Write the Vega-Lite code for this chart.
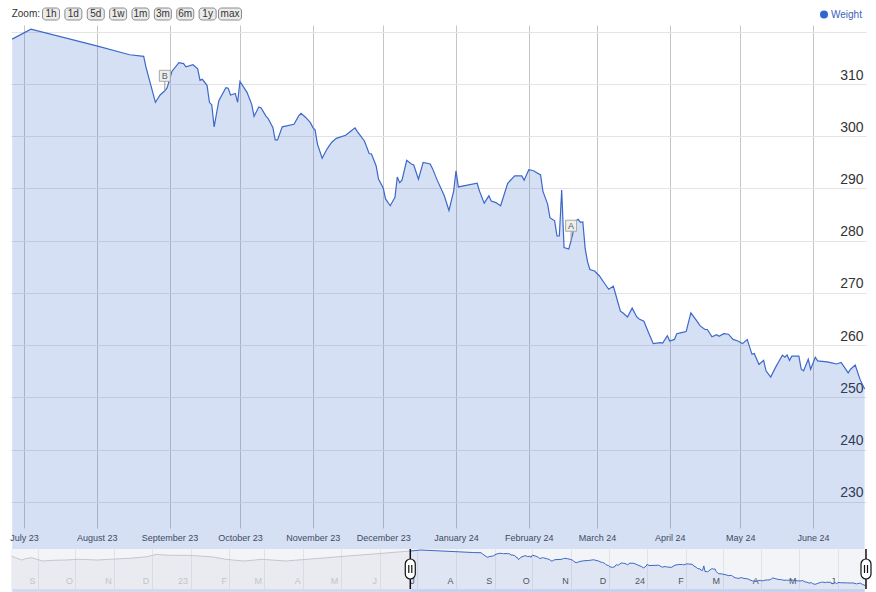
{
  "$schema": "https://vega.github.io/schema/vega-lite/v6.json",
  "background": "white",
  "padding": {"left": 9, "top": 7, "right": 10, "bottom": 4},
  "bounds": "flush",
  "spacing": 5,
  "config": {"view": {"stroke": null}, "font": "Liberation Sans"},
  "datasets": {
    "weight": [
      {"date": "2023-06-26", "value": 318.6}, {"date": "2023-07-04", "value": 320.5}, {"date": "2023-08-01", "value": 317.3},
      {"date": "2023-08-15", "value": 315.6}, {"date": "2023-08-21", "value": 315.3}, {"date": "2023-08-22", "value": 313.2},
      {"date": "2023-08-26", "value": 306.5}, {"date": "2023-08-28", "value": 307.9}, {"date": "2023-08-30", "value": 308.7},
      {"date": "2023-08-31", "value": 309.3}, {"date": "2023-09-02", "value": 312.4}, {"date": "2023-09-05", "value": 314.1},
      {"date": "2023-09-07", "value": 313.9}, {"date": "2023-09-08", "value": 313.3}, {"date": "2023-09-11", "value": 313.7},
      {"date": "2023-09-13", "value": 312.9}, {"date": "2023-09-14", "value": 310.7}, {"date": "2023-09-15", "value": 310.9},
      {"date": "2023-09-17", "value": 309.7}, {"date": "2023-09-18", "value": 306.5}, {"date": "2023-09-19", "value": 306.0},
      {"date": "2023-09-20", "value": 301.8}, {"date": "2023-09-22", "value": 306.8}, {"date": "2023-09-25", "value": 309.3},
      {"date": "2023-09-26", "value": 309.2}, {"date": "2023-09-27", "value": 307.9}, {"date": "2023-09-29", "value": 308.2},
      {"date": "2023-09-30", "value": 306.5}, {"date": "2023-10-01", "value": 310.5}, {"date": "2023-10-04", "value": 308.4},
      {"date": "2023-10-06", "value": 306.1}, {"date": "2023-10-07", "value": 303.8}, {"date": "2023-10-09", "value": 305.6},
      {"date": "2023-10-10", "value": 305.4}, {"date": "2023-10-12", "value": 303.9}, {"date": "2023-10-13", "value": 303.4},
      {"date": "2023-10-15", "value": 301.7}, {"date": "2023-10-16", "value": 299.3}, {"date": "2023-10-17", "value": 299.3},
      {"date": "2023-10-19", "value": 301.8}, {"date": "2023-10-24", "value": 302.3}, {"date": "2023-10-26", "value": 303.9},
      {"date": "2023-10-27", "value": 304.4}, {"date": "2023-10-29", "value": 303.6}, {"date": "2023-10-31", "value": 302.6},
      {"date": "2023-11-01", "value": 301.7}, {"date": "2023-11-02", "value": 301.2}, {"date": "2023-11-03", "value": 298.5},
      {"date": "2023-11-05", "value": 295.8}, {"date": "2023-11-07", "value": 297.5}, {"date": "2023-11-09", "value": 298.8},
      {"date": "2023-11-11", "value": 299.6}, {"date": "2023-11-15", "value": 300.2}, {"date": "2023-11-17", "value": 300.9},
      {"date": "2023-11-19", "value": 301.6}, {"date": "2023-11-20", "value": 300.9}, {"date": "2023-11-23", "value": 299.1},
      {"date": "2023-11-25", "value": 296.7}, {"date": "2023-11-26", "value": 296.6}, {"date": "2023-11-28", "value": 294.3},
      {"date": "2023-11-29", "value": 291.8}, {"date": "2023-12-01", "value": 290.1}, {"date": "2023-12-02", "value": 288.0},
      {"date": "2023-12-04", "value": 286.7}, {"date": "2023-12-06", "value": 288.3}, {"date": "2023-12-07", "value": 292.2},
      {"date": "2023-12-08", "value": 291.1}, {"date": "2023-12-09", "value": 291.6}, {"date": "2023-12-11", "value": 295.4},
      {"date": "2023-12-13", "value": 294.7}, {"date": "2023-12-14", "value": 294.5}, {"date": "2023-12-16", "value": 291.8},
      {"date": "2023-12-18", "value": 295.0}, {"date": "2023-12-21", "value": 294.7}, {"date": "2023-12-22", "value": 293.8},
      {"date": "2023-12-24", "value": 291.6}, {"date": "2023-12-27", "value": 288.6}, {"date": "2023-12-29", "value": 285.8},
      {"date": "2023-12-31", "value": 289.5}, {"date": "2024-01-01", "value": 293.4}, {"date": "2024-01-02", "value": 290.3},
      {"date": "2024-01-10", "value": 291.0}, {"date": "2024-01-11", "value": 289.5}, {"date": "2024-01-13", "value": 287.2},
      {"date": "2024-01-15", "value": 288.6}, {"date": "2024-01-16", "value": 287.6}, {"date": "2024-01-18", "value": 287.3},
      {"date": "2024-01-19", "value": 287.0}, {"date": "2024-01-20", "value": 286.7}, {"date": "2024-01-23", "value": 291.0},
      {"date": "2024-01-26", "value": 292.4}, {"date": "2024-01-29", "value": 292.4}, {"date": "2024-01-30", "value": 291.6},
      {"date": "2024-02-01", "value": 293.6}, {"date": "2024-02-03", "value": 293.4}, {"date": "2024-02-06", "value": 292.6},
      {"date": "2024-02-07", "value": 289.5}, {"date": "2024-02-09", "value": 287.0}, {"date": "2024-02-10", "value": 284.4},
      {"date": "2024-02-12", "value": 283.8}, {"date": "2024-02-13", "value": 280.9}, {"date": "2024-02-14", "value": 280.9},
      {"date": "2024-02-15", "value": 289.7}, {"date": "2024-02-16", "value": 278.7}, {"date": "2024-02-18", "value": 278.4},
      {"date": "2024-02-19", "value": 280.0}, {"date": "2024-02-21", "value": 283.8}, {"date": "2024-02-22", "value": 284.1},
      {"date": "2024-02-23", "value": 283.5}, {"date": "2024-02-24", "value": 283.6}, {"date": "2024-02-25", "value": 278.5},
      {"date": "2024-02-26", "value": 276.0}, {"date": "2024-02-27", "value": 274.5}, {"date": "2024-02-29", "value": 274.2},
      {"date": "2024-03-02", "value": 273.3}, {"date": "2024-03-04", "value": 272.0}, {"date": "2024-03-06", "value": 270.7},
      {"date": "2024-03-08", "value": 271.3}, {"date": "2024-03-09", "value": 269.7}, {"date": "2024-03-11", "value": 266.5},
      {"date": "2024-03-12", "value": 266.2}, {"date": "2024-03-14", "value": 265.4}, {"date": "2024-03-16", "value": 267.1},
      {"date": "2024-03-18", "value": 265.4}, {"date": "2024-03-19", "value": 265.0}, {"date": "2024-03-21", "value": 264.6},
      {"date": "2024-03-23", "value": 262.4}, {"date": "2024-03-25", "value": 260.3}, {"date": "2024-03-28", "value": 260.5},
      {"date": "2024-03-29", "value": 260.4}, {"date": "2024-03-31", "value": 261.8}, {"date": "2024-04-01", "value": 260.8},
      {"date": "2024-04-03", "value": 261.1}, {"date": "2024-04-04", "value": 262.2}, {"date": "2024-04-06", "value": 262.4},
      {"date": "2024-04-08", "value": 262.6}, {"date": "2024-04-10", "value": 266.2}, {"date": "2024-04-12", "value": 265.0},
      {"date": "2024-04-14", "value": 263.7}, {"date": "2024-04-16", "value": 263.0}, {"date": "2024-04-17", "value": 263.0},
      {"date": "2024-04-19", "value": 261.6}, {"date": "2024-04-21", "value": 262.0}, {"date": "2024-04-22", "value": 261.7},
      {"date": "2024-04-24", "value": 262.2}, {"date": "2024-04-26", "value": 262.1}, {"date": "2024-04-28", "value": 261.1},
      {"date": "2024-04-30", "value": 260.8}, {"date": "2024-05-02", "value": 260.3}, {"date": "2024-05-04", "value": 261.1},
      {"date": "2024-05-06", "value": 258.3}, {"date": "2024-05-07", "value": 258.4}, {"date": "2024-05-09", "value": 256.3},
      {"date": "2024-05-11", "value": 257.1}, {"date": "2024-05-12", "value": 255.1}, {"date": "2024-05-14", "value": 253.9},
      {"date": "2024-05-16", "value": 255.7}, {"date": "2024-05-18", "value": 257.3}, {"date": "2024-05-19", "value": 258.1},
      {"date": "2024-05-20", "value": 257.7}, {"date": "2024-05-21", "value": 258.1}, {"date": "2024-05-22", "value": 257.1},
      {"date": "2024-05-23", "value": 257.9}, {"date": "2024-05-26", "value": 257.9}, {"date": "2024-05-27", "value": 255.4},
      {"date": "2024-05-28", "value": 255.1}, {"date": "2024-05-30", "value": 257.3}, {"date": "2024-05-31", "value": 255.4},
      {"date": "2024-06-02", "value": 257.7}, {"date": "2024-06-03", "value": 257.0}, {"date": "2024-06-07", "value": 256.8},
      {"date": "2024-06-09", "value": 256.6}, {"date": "2024-06-11", "value": 256.4}, {"date": "2024-06-13", "value": 256.7},
      {"date": "2024-06-16", "value": 254.7}, {"date": "2024-06-17", "value": 255.4}, {"date": "2024-06-19", "value": 256.2},
      {"date": "2024-06-21", "value": 253.5}, {"date": "2024-06-23", "value": 251.6}
    ],
    "history": [
      {"date": "2022-08-11", "value": 308.9}, {"date": "2022-08-14", "value": 305.6}, {"date": "2022-08-19", "value": 301.1},
      {"date": "2022-08-22", "value": 303.6}, {"date": "2022-08-27", "value": 305.6}, {"date": "2022-08-31", "value": 302.5},
      {"date": "2022-09-05", "value": 299.2}, {"date": "2022-09-13", "value": 300.5}, {"date": "2022-09-23", "value": 301.1},
      {"date": "2022-10-04", "value": 302.5}, {"date": "2022-10-18", "value": 301.1}, {"date": "2022-10-29", "value": 302.5},
      {"date": "2022-11-13", "value": 304.4}, {"date": "2022-11-27", "value": 307.5}, {"date": "2022-12-05", "value": 312.2},
      {"date": "2022-12-10", "value": 310.8}, {"date": "2022-12-18", "value": 310.2}, {"date": "2022-12-29", "value": 310.2},
      {"date": "2023-01-08", "value": 308.9}, {"date": "2023-01-19", "value": 307.0}, {"date": "2023-01-29", "value": 302.5},
      {"date": "2023-02-12", "value": 299.2}, {"date": "2023-02-19", "value": 300.5}, {"date": "2023-02-27", "value": 302.5},
      {"date": "2023-03-07", "value": 301.1}, {"date": "2023-03-18", "value": 299.2}, {"date": "2023-06-26", "value": 318.6}
    ],
    "annotations": [
      {"date": "2023-08-30", "value": 308.7, "label": "B"},
      {"date": "2024-02-19", "value": 280.0, "label": "A"}
    ],
    "range": [
      {"date": "2023-06-25T12:00:00"},
      {"date": "2024-06-23T14:00:00"}
    ],
    "buttons": [
      {"label": "1h"}, {"label": "1d"}, {"label": "5d"}, {"label": "1w"}, {"label": "1m"},
      {"label": "3m"}, {"label": "6m"}, {"label": "1y"}, {"label": "max"}
    ]
  },
  "vconcat": [
    {
      "width": 855,
      "height": 12,
      "layer": [
        {
          "data": {"name": "buttons"},
          "mark": {"type": "rect", "width": {"expr": "datum.label === 'max' ? 23 : 17"}, "cornerRadius": 3, "fill": "#ebebeb", "stroke": "#8c8c8c", "strokeWidth": 1},
          "encoding": {
            "x": {"field": "label", "type": "nominal", "sort": null, "scale": {"type": "point", "range": [40, 219], "padding": 0}, "axis": null}
          }
        },
        {
          "data": {"name": "buttons"},
          "mark": {"type": "text", "fontSize": 10, "color": "#333333", "baseline": "middle"},
          "encoding": {
            "x": {"field": "label", "type": "nominal", "sort": null, "axis": null},
            "text": {"field": "label"}
          }
        },
        {
          "data": {"values": [{"label": "Zoom:"}]},
          "mark": {"type": "text", "fontSize": 10, "color": "#333333", "baseline": "middle", "align": "right", "dx": -11},
          "encoding": {
            "x": {"datum": "1h", "type": "nominal"},
            "text": {"field": "label"}
          }
        }
      ]
    },
    {
      "bounds": "flush",
      "spacing": 21,
      "vconcat": [
        {
          "width": 855,
          "height": 503,
          "view": {"fill": "white", "stroke": null},
          "encoding": {
            "x": {
              "field": "date", "type": "temporal",
              "scale": {"domain": [{"year": 2023, "month": 6, "date": 25, "hours": 12}, {"year": 2024, "month": 6, "date": 23, "hours": 14}]},
              "axis": {"title": null, "format": "%B %y", "tickCount": {"interval": "month", "step": 1}, "domain": false, "ticks": false, "tickSize": 0, "labelPadding": 5, "labelFontSize": 9, "labelColor": "#444444", "labelFlush": false, "labelOverlap": false, "gridColor": "#c6c6c6", "grid": true}
            },
            "y": {
              "field": "value", "type": "quantitative",
              "scale": {"domain": [225, 321.3], "zero": false, "nice": false},
              "axis": {"title": null, "orient": "right", "values": [230, 240, 250, 260, 270, 280, 290, 300, 310, 320], "labelExpr": "datum.value > 315 ? '' : datum.label", "domain": false, "ticks": false, "tickSize": 0, "labelAlign": "right", "labelPadding": -3, "labelBaseline": "alphabetic", "labelOffset": -5, "labelFontSize": 14, "labelColor": "#333333", "grid": true, "gridColor": "#e4e4e4"}
            }
          },
          "layer": [
            {
              "data": {"name": "weight"},
              "mark": {"type": "area", "fill": "#3366cc", "fillOpacity": 0.2}
            },
            {
              "data": {"name": "weight"},
              "mark": {"type": "line", "strokeWidth": 1.2},
              "encoding": {
                "color": {"datum": "Weight", "type": "nominal", "scale": {"range": ["#3d68c8"]},
                  "legend": {"title": null, "orient": "none", "legendX": 808, "legendY": 1.5, "padding": 0, "symbolType": "circle", "symbolSize": 64, "symbolFillColor": "#3366cc", "symbolStrokeWidth": 0, "labelFontSize": 10, "labelColor": "#3d5fb8", "labelOffset": 2}}
              }
            },
            {
              "data": {"name": "annotations"},
              "mark": {"type": "rule", "color": "#9a9a9a", "y2Offset": -10},
              "encoding": {"y2": {"field": "value"}}
            },
            {
              "data": {"name": "annotations"},
              "mark": {"type": "point", "shape": "square", "size": 121, "filled": true, "fill": "#efefe4", "stroke": "#a8a8a8", "strokeWidth": 1, "opacity": 1, "yOffset": -15}
            },
            {
              "data": {"name": "annotations"},
              "mark": {"type": "text", "fontSize": 9, "color": "#4b5d8c", "yOffset": -15, "baseline": "middle"},
              "encoding": {"text": {"field": "label"}}
            }
          ]
        },
        {
          "width": 855,
          "height": 40,
          "view": {"fill": "#f3f4f7", "stroke": null},
          "encoding": {
            "x": {
              "field": "date", "type": "temporal",
              "scale": {"domain": [{"year": 2022, "month": 8, "date": 10, "hours": 12}, {"year": 2024, "month": 6, "date": 23, "hours": 14}]},
              "axis": {"title": null, "tickCount": {"interval": "month", "step": 1}, "labelExpr": "month(datum.value) === 0 ? timeFormat(datum.value, '%y') : slice(timeFormat(datum.value, '%b'), 0, 1)", "domain": false, "ticks": false, "tickSize": 0, "labelAlign": "right", "labelBaseline": "middle", "labelPadding": -9, "labelOffset": -3, "labelFontSize": 9, "labelFlush": false, "labelOverlap": false, "labelColor": {"condition": {"test": "datum.value < datetime(2023, 5, 25)", "value": "#c6c6c6"}, "value": "#555555"}, "grid": true, "gridColor": "#e0e2e7"}
            },
            "y": {"field": "value", "type": "quantitative", "scale": {"domain": [244.8, 322.5], "zero": false, "nice": false}, "axis": null}
          },
          "layer": [
            {"data": {"name": "history"}, "mark": {"type": "area", "fill": "#b8bcc6", "fillOpacity": 0.15}},
            {"data": {"name": "history"}, "mark": {"type": "line", "color": "#c4c7ce", "strokeWidth": 1}},
            {"data": {"name": "weight"}, "mark": {"type": "area", "fill": "#3366cc", "fillOpacity": 0.1}},
            {"data": {"name": "weight"}, "mark": {"type": "line", "color": "#3d68c8", "strokeWidth": 1}},
            {
              "data": {"name": "range"},
              "mark": {"type": "rule", "color": "#111111", "strokeWidth": 1.5},
              "encoding": {"y": null}
            },
            {
              "data": {"name": "range"},
              "mark": {"type": "point", "shape": "M -0.5 -0.5 A 0.5 0.5 0 0 1 0.5 -0.5 L 0.5 0.5 A 0.5 0.5 0 0 1 -0.5 0.5 Z M -0.15 -0.4 L -0.15 0.4 M 0.15 -0.4 L 0.15 0.4", "size": 400, "filled": true, "fill": "white", "stroke": "#111111", "strokeWidth": 1.2, "opacity": 1},
              "encoding": {"y": null}
            }
          ]
        }
      ]
    }
  ]
}
